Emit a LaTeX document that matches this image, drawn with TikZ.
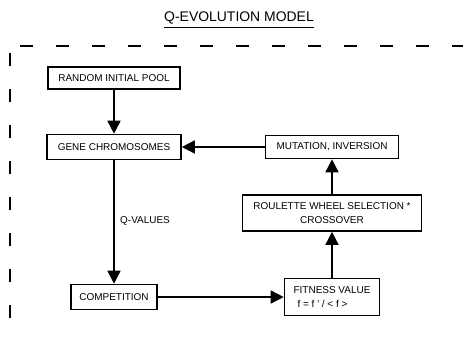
\documentclass[tikz,border=0pt]{standalone}
\usepackage{fontspec}
\setmainfont{Liberation Sans}
\usetikzlibrary{arrows.meta}
\begin{document}
\begin{tikzpicture}[x=1bp,y=-1bp,
  box/.style={draw,line width=1.6bp,inner sep=0pt,font=\fontsize{10}{14.5}\selectfont},
  arr/.style={line width=1.6bp,-{Triangle[width=13bp,length=13bp]}},
  frame/.style={line width=1.5bp,dash pattern=on 13bp off 23bp}]
\useasboundingbox (0,0) rectangle (463,338);
\node[font=\fontsize{14}{16}\selectfont,inner sep=0pt] (title) at (239,18) {Q-EVOLUTION MODEL};
\draw[line width=1bp] ([yshift=-6.3bp]title.base west) -- ([yshift=-6.3bp]title.base east);
\coordinate (ta) at (20,46);
\coordinate (tb) at (463,46);
\coordinate (la) at (10,53);
\coordinate (lb) at (10,325);
\draw[frame] (ta) -- (tb);
\draw[frame] (la) -- (lb);
\node[box,minimum width=132bp,minimum height=22bp] (pool) at (114,78) {RANDOM INITIAL POOL};
\node[box,minimum width=134bp,minimum height=25bp] (gene) at (114,147) {GENE CHROMOSOMES};
\node[box,minimum width=133bp,minimum height=23bp] (mut) at (332,147) {MUTATION, INVERSION};
\node[box,minimum width=179bp,minimum height=36bp,align=center] (roul) at (332,213) {ROULETTE WHEEL SELECTION *\\CROSSOVER};
\node[box,minimum width=86bp,minimum height=25bp] (comp) at (114,297) {COMPETITION};
\node[box,minimum width=95bp,minimum height=37bp,align=left] (fit) at (332,297) {FITNESS VALUE\\\hspace*{4pt}f = f \textquotesingle\ / < f >};
\node[anchor=west,inner sep=0pt,font=\fontsize{10}{12}\selectfont] (qv) at (120,221) {Q-VALUES};
\draw[arr] (pool) -- (gene);
\draw[arr] (gene) -- (comp);
\draw[arr] (comp) -- (fit);
\draw[arr] (fit.north) -- (roul.south);
\draw[arr] (roul.north) -- (mut.south);
\draw[arr] (mut) -- (gene);
\end{tikzpicture}
\end{document}
